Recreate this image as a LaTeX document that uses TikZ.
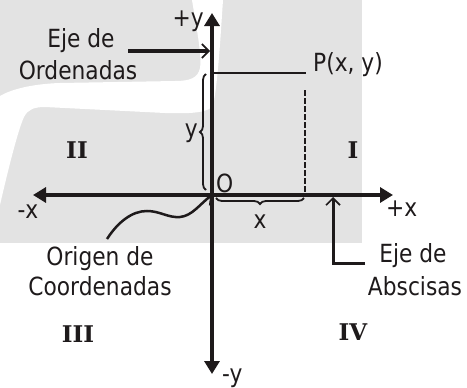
\documentclass[tikz,border=0pt]{standalone}
\usepackage{fontspec}
\newfontfamily\lblfont[FakeStretch=0.87]{DejaVu Sans}
\newfontfamily\quadfont{DejaVu Serif}
\usetikzlibrary{arrows.meta,decorations.pathreplacing}
\definecolor{ink}{RGB}{30,26,27}
\definecolor{bggray}{RGB}{227,227,227}
\begin{document}
\begin{tikzpicture}[x=1pt,y=-1pt,
  lbl/.style={font=\lblfont\fontsize{25}{30}\selectfont, text=ink, inner sep=0pt},
  quad/.style={font=\quadfont\bfseries\fontsize{23}{28}\selectfont, text=ink, inner sep=0pt},
  axis/.style={draw=ink, line width=4pt, {Triangle[length=13pt,width=15pt]}-{Triangle[length=13pt,width=15pt]}},
  pointer/.style={draw=ink, -{Straight Barb[length=7pt,width=14pt,line width=1.6pt]}},
  thinline/.style={draw=ink, line width=2pt},
  bracestyle/.style={draw=ink, line width=1.8pt, decorate, decoration={brace, amplitude=6pt}}]
\useasboundingbox (0,0) rectangle (467,388);
% background
\fill[bggray] (0,0) rectangle (362,243);
\fill[white] (192,0) .. controls (196,25) and (202,55) .. (200,68)
  .. controls (198,78) and (190,81) .. (175,81) -- (60,83)
  .. controls (30,84) and (10,90) .. (0,96) -- (0,205)
  .. controls (8,170) and (18,130) .. (24,117)
  .. controls (28,109) and (35,107) .. (45,107) -- (165,113)
  .. controls (195,114) and (210,112) .. (213,105)
  .. controls (216,95) and (219,60) .. (221,30) -- (223,0) -- cycle;
% coordinates
\coordinate (O) at (212,195);
\coordinate (ytop) at (212,13);
\coordinate (ybot) at (212,374);
\coordinate (xl) at (33,195);
\coordinate (xr) at (393,195);
\coordinate (Py) at (214,73);
\coordinate (Pc) at (306,73);
\coordinate (Pd) at (305,90);
\coordinate (Px) at (305,195);
\coordinate (eoS) at (128,51);
\coordinate (eoE) at (210,51);
\coordinate (orS) at (107,239);
\coordinate (abS) at (365,263);
\coordinate (abC) at (333,263);
\coordinate (abE) at (333,197);
\coordinate (brA) at (206,190);
\coordinate (brB) at (206,74);
\coordinate (brC) at (304,198);
\coordinate (brD) at (216,198);
% guide lines
\draw[thinline] (Py) -- (Pc);
\draw[thinline, line width=1.8pt, dash pattern=on 6pt off 2pt] (Pd) -- (Px);
\draw[bracestyle] (brA) -- (brB);
\draw[bracestyle] (brC) -- (brD);
% axes
\draw[axis] (xl) -- (xr);
\draw[axis] (ytop) -- (ybot);
% pointers
\draw[pointer, line width=3.5pt] (eoS) -- (eoE);
\draw[pointer, line width=2.5pt] (orS) .. controls (118,222) and (132,211) .. (147,211)
  .. controls (160,211) and (168,218) .. (180,217)
  .. controls (192,216) and (200,204) .. (O);
\draw[pointer, line width=3pt] (abS) -- (abC) -- (abE);
% labels
\node[lbl, anchor=base east] (py) at (204,27) {+y};
\node[lbl, anchor=base] (eo1) at (81,47) {Eje de};
\node[lbl, anchor=base] (eo2) at (78,79) {Ordenadas};
\begin{scope}
\clip (0,0) rectangle (381,388);
\node[lbl, anchor=base west] (P) at (313,71) {P(x, y)};
\end{scope}
\node[lbl, anchor=base east] (ylab) at (198,137) {y};
\node[quad, anchor=base] (q2) at (77,158) {II};
\node[quad, anchor=base] (q1) at (353,158) {I};
\node[lbl, anchor=base west] (Olab) at (216,192) {O};
\node[lbl, anchor=base] (mx) at (28,218) {-x};
\node[lbl, anchor=base west] (pxl) at (386,216) {+x};
\node[lbl, anchor=base] (xlab) at (260,228) {x};
\node[lbl, anchor=base] (or1) at (100,265) {Origen de};
\node[lbl, anchor=base] (or2) at (100,295) {Coordenadas};
\node[lbl, anchor=base] (ab1) at (413,262) {Eje de};
\node[lbl, anchor=base] (ab2) at (415,295) {Abscisas};
\node[quad, anchor=base] (q3) at (78,342) {III};
\node[quad, anchor=base] (q4) at (353,340) {IV};
\node[lbl, anchor=base west] (my) at (222,382) {-y};
\end{tikzpicture}
\end{document}
